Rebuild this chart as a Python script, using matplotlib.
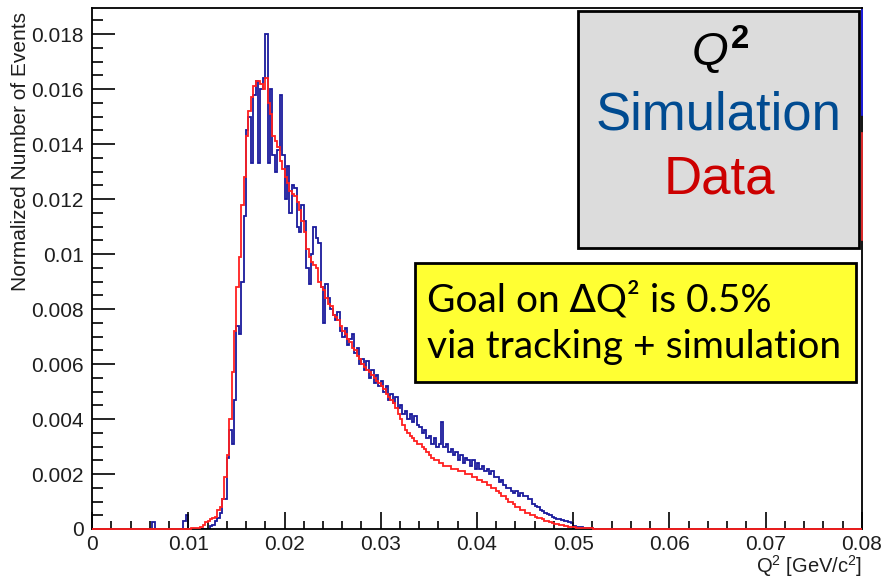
import numpy as np
import matplotlib
matplotlib.use("Agg")
import matplotlib.pyplot as plt
import matplotlib.patches as patches
from matplotlib.ticker import MultipleLocator, FuncFormatter

plt.rcParams['font.family'] = ['Liberation Sans', 'DejaVu Sans']
plt.rcParams['mathtext.fontset'] = 'custom'
plt.rcParams['mathtext.rm'] = 'Liberation Sans'
plt.rcParams['mathtext.it'] = 'Liberation Sans:italic'
plt.rcParams['mathtext.bf'] = 'Liberation Sans:bold'

# histogram binning (GeV/c^2)
BIN_W = 0.00025
Q2_MIN, Q2_MAX = 0.0, 0.08
FIRST_BIN = 0.006          # first listed bin below
UNIT = 1e-4                # values below are in units of 1e-4

# data (red), bins from 0.006 in steps of 0.00025
data_vals = [
    0, 0, 0, 0, 0, 0, 0, 0, 0, 0, 0, 0, 0, 0, 0, 0, 0.1, 0.2, 0.3, 0.4,
    0.5, 0.8, 1.5, 2.5, 3, 3.5, 4, 4.5, 7, 8, 11, 19, 27, 40, 57, 72, 88, 99, 118, 128,
    143, 152, 157, 161, 163, 163, 162, 160, 164, 155, 151, 143, 141, 139, 134, 131, 128, 126, 123, 122,
    121, 119, 116, 112, 108, 102, 99, 97, 96, 95, 90, 88, 87, 84, 82, 81, 78, 77, 76, 74,
    72, 71, 69, 68, 66, 65, 63, 62, 60, 59, 58, 57, 56, 55, 54, 53, 52, 51, 49, 48,
    47, 46, 44, 42, 40, 38, 36, 35, 34, 33, 32, 31, 31, 30, 29, 28, 27, 26, 25, 25,
    24, 24, 23, 23, 23, 22, 22, 22, 21, 21, 21, 20, 20, 20, 19, 19, 18, 18, 17, 17,
    16, 16, 15, 15, 14, 13, 12, 12, 11, 10, 10, 9, 8, 8, 7, 7, 6, 6, 5, 5,
    4.5, 4, 4, 3.5, 3, 2.8, 2.5, 2.2, 2, 1.8, 1.5, 1.3, 1.1, 1.0, 0.8, 0.7, 0.6, 0.5, 0.4, 0.4,
    0.3, 0.3, 0.2, 0.2, 0.15, 0.1, 0.1, 0.05, 0.05, 0.05,
]

# simulation (blue), same bins
sim_vals = [
    0, 2.5, 0, 0, 0, 0, 0, 0, 0, 0, 0, 0, 0, 0, 3, 5, 0, 0, 0, 0,
    0, 0, 0, 0, 0, 1, 1.5, 3, 4, 6, 11, 11, 26, 36, 31, 47, 74, 71, 90, 114,
    145, 150, 133, 158, 163, 133, 160, 164, 180, 133, 160, 136, 130, 138, 158, 136, 120, 132, 115, 125,
    124, 110, 108, 118, 112, 95, 89, 100, 110, 106, 104, 88, 75, 89, 84, 80, 78, 76, 79, 72,
    70, 73, 67, 69, 71, 64, 66, 60, 62, 58, 61, 55, 58, 53, 56, 52, 54, 50, 52, 47,
    49, 46, 48, 44, 45, 42, 43, 40, 42, 39, 41, 38, 37, 35, 36, 33, 34, 31, 33, 30,
    31, 39, 30, 31, 28, 29, 27, 28, 25, 27, 24, 26, 25, 23, 25, 22, 24, 22, 23, 21,
    22, 20, 21, 19, 19, 17, 18, 16, 15, 15, 14, 13, 14, 12, 13, 12, 12, 11, 11, 9,
    8.5, 8, 7, 6.5, 6, 5.5, 5, 4.5, 4, 3.8, 3.5, 3.2, 3, 2.8, 2.6, 2.2, 1, 0.8, 0.7, 0.6,
    0.5, 0.4, 0.3, 0.2, 0.1, 0.1, 0.05, 0, 0, 0,
]

x_ticks = [0, 0.01, 0.02, 0.03, 0.04, 0.05, 0.06, 0.07, 0.08]
y_ticks = [0, 0.002, 0.004, 0.006, 0.008, 0.01, 0.012, 0.014, 0.016, 0.018]

SIM_COLOR = '#1a1a9c'
DATA_COLOR = '#ff2020'
TEXT_GREY = '#1e1e1e'


def full_hist(vals):
    # pad the listed bins with empty bins over the whole axis range
    n_bins = int(round((Q2_MAX - Q2_MIN) / BIN_W))
    edges = np.linspace(Q2_MIN, Q2_MAX, n_bins + 1)
    h = np.zeros(n_bins)
    i0 = int(round((FIRST_BIN - Q2_MIN) / BIN_W))
    h[i0:i0 + len(vals)] = np.array(vals) * UNIT
    return h, edges


W, H = 885, 579
fig = plt.figure(figsize=(W / 100, H / 100), dpi=100)
ax = fig.add_axes([92 / W, 50 / H, 770 / W, 521 / H])

h_sim, edges = full_hist(sim_vals)
h_data, _ = full_hist(data_vals)
ax.stairs(h_sim, edges, color=SIM_COLOR, lw=1.3, baseline=None)
# red drawn unclipped so its empty bins lie visibly on the x axis, as in ROOT
ax.stairs(h_data, edges, color=DATA_COLOR, lw=1.3, baseline=None, clip_on=False, zorder=3)

ax.set_xlim(Q2_MIN, Q2_MAX)
ax.set_ylim(0, 0.01895)
ax.set_xticks(x_ticks)
ax.set_yticks(y_ticks)
fmt = FuncFormatter(lambda v, p: '%g' % round(v, 4))
ax.xaxis.set_major_formatter(fmt)
ax.yaxis.set_major_formatter(fmt)
ax.xaxis.set_minor_locator(MultipleLocator(0.002))
ax.yaxis.set_minor_locator(MultipleLocator(0.0005))
ax.tick_params(axis='both', which='both', direction='in', width=1.2, colors='black',
               labelsize=15, labelcolor=TEXT_GREY)
ax.tick_params(axis='y', which='major', length=16.5, pad=6)
ax.tick_params(axis='y', which='minor', length=8)
ax.tick_params(axis='x', which='major', length=12, pad=4.5)
ax.tick_params(axis='x', which='minor', length=6)
for sp in ax.spines.values():
    sp.set_linewidth(1.3)

fig.text(862 / W, 1 - 566 / H, 'Q$^2$ [GeV/c$^2$]', ha='right', va='center',
         fontsize=14.5, color=TEXT_GREY)
fig.text(21 / W, 1 - 12 / H, 'Normalized Number of Events', rotation=90,
         ha='center', va='top', fontsize=15, color=TEXT_GREY)

# stat-box edges peeking out on the right frame
fig.add_artist(plt.Line2D([862 / W, 862 / W], [1 - 10 / H, 1 - 115 / H], color='#2020ff', lw=1.2))
fig.add_artist(plt.Line2D([862 / W, 862 / W], [1 - 133 / H, 1 - 240 / H], color='#ff3030', lw=1.2))

# legend-like grey box
fig.add_artist(patches.Rectangle((578 / W, 1 - 248 / H), 281 / W, 237 / H,
                                 transform=fig.transFigure, fc='#dcdcdc', ec='black', lw=2))
fig.text(720 / W, 1 - 50 / H, r'$\mathit{Q}^{\mathbf{2}}$', ha='center', va='center',
         fontsize=34, color='black')
fig.text(719 / W, 1 - 115 / H, 'Simulation', ha='center', va='center',
         fontsize=38, color='#004b91')
fig.text(719 / W, 1 - 180 / H, 'Data', ha='center', va='center',
         fontsize=38, color='#cc0000')

# yellow note box
fig.add_artist(patches.Rectangle((415 / W, 1 - 382 / H), 441 / W, 119 / H,
                                 transform=fig.transFigure, fc='#ffff33', ec='black', lw=2))
fig.text(427 / W, 1 - 300 / H, 'Goal on \u2206Q\u00b2 is 0.5%', ha='left', va='center',
         fontsize=28, color='black', family=['Lato', 'DejaVu Sans'])
fig.text(427 / W, 1 - 347 / H, 'via tracking + simulation', ha='left', va='center',
         fontsize=28, color='black', family=['Lato', 'DejaVu Sans'])

fig.savefig('out.png', dpi=100)
